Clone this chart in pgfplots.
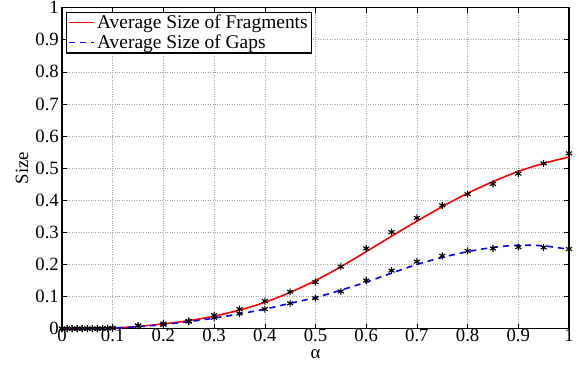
\documentclass[border=0pt]{standalone}
\usepackage{pgfplots}
\pgfplotsset{compat=1.18}
\usepackage{fontspec}
\setmainfont{Liberation Serif}
\begin{document}
\begin{tikzpicture}[x=1bp,y=1bp]
\begin{axis}[
  scale only axis,
  width=507bp, height=321bp,
  xmin=0, xmax=1, ymin=0, ymax=1,
  xtick={0,0.1,...,1.0}, ytick={0,0.1,...,1.0},
  xticklabels={0,0.1,0.2,0.3,0.4,0.5,0.6,0.7,0.8,0.9,1},
  yticklabels={0,0.1,0.2,0.3,0.4,0.5,0.6,0.7,0.8,0.9,1},
  tick align=inside, tick pos=both,
  major tick length=5bp,
  grid=major,
  grid style={dotted, gray!70, line width=0.6pt},
  axis line style={line width=1.2pt},
  tick style={line width=0.6pt, black},
  ticklabel style={font=\fontsize{18.8}{21}\selectfont},
  xticklabel style={yshift=1bp, inner sep=1pt},
  yticklabel style={xshift=-1.5bp, inner sep=1.5pt},
  /pgf/number format/assume math mode=true,
  xlabel={α}, ylabel={Size},
  label style={font=\fontsize{18.8}{21}\selectfont},
  xlabel style={at={(axis description cs:0.5,0)}, anchor=north, yshift=-21bp, inner sep=0pt},
  ylabel style={at={(axis description cs:-0.079,0.5)}, anchor=center, inner sep=0pt},
  legend style={at={(rel axis cs:0.008,0.988)}, anchor=north west,
    font=\fontsize{19.5}{22}\selectfont, draw=black, line width=1.2pt,
    inner xsep=2pt, inner ysep=1pt, row sep=0.5pt, cells={anchor=west}},
  legend cell align=left,
  legend image code/.code={\draw[#1, line width=1.5pt] (0bp,0bp) -- (25bp,0bp);},
]
\addplot[red, line width=1.6pt, smooth] coordinates {
(0,0) (0.05,0.0005) (0.1,0.002) (0.15,0.007) (0.2,0.015) (0.25,0.025) (0.3,0.039) (0.35,0.058) (0.4,0.082) (0.45,0.113) (0.5,0.15) (0.55,0.193) (0.6,0.24) (0.65,0.288) (0.7,0.335) (0.75,0.38) (0.8,0.422) (0.85,0.458) (0.9,0.49) (0.95,0.515) (1.0,0.535)};
\addlegendentry{Average Size of Fragments}
\addplot[blue, dash pattern=on 6bp off 5bp, line width=1.6pt, smooth] coordinates {
(0,0) (0.05,0.0005) (0.1,0.002) (0.15,0.006) (0.2,0.013) (0.25,0.022) (0.3,0.033) (0.35,0.046) (0.4,0.061) (0.45,0.079) (0.5,0.097) (0.55,0.12) (0.6,0.145) (0.65,0.173) (0.7,0.2) (0.75,0.222) (0.8,0.24) (0.85,0.253) (0.9,0.26) (0.95,0.258) (1.0,0.247)};
\addlegendentry{Average Size of Gaps}
\addplot[only marks, mark=asterisk, mark size=3.5bp, black, mark options={line width=1.1pt}, forget plot] coordinates {
(0,0) (0.01,0) (0.02,0) (0.03,0) (0.04,0) (0.05,0) (0.06,0) (0.07,0) (0.08,0) (0.09,0.001) (0.1,0.002)
(0.15,0.01) (0.2,0.016) (0.25,0.024) (0.3,0.042) (0.35,0.061) (0.4,0.086) (0.45,0.115) (0.5,0.145) (0.55,0.193) (0.6,0.25) (0.65,0.301) (0.7,0.345) (0.75,0.384) (0.8,0.419) (0.85,0.451) (0.9,0.483) (0.95,0.515) (1.0,0.546)};
\addplot[only marks, mark=asterisk, mark size=3.5bp, black, mark options={line width=1.1pt}, forget plot] coordinates {
(0,0) (0.01,0) (0.02,0) (0.03,0) (0.04,0) (0.05,0) (0.06,0) (0.07,0) (0.08,0) (0.09,0.001) (0.1,0.002)
(0.15,0.009) (0.2,0.012) (0.25,0.022) (0.3,0.034) (0.35,0.047) (0.4,0.061) (0.45,0.079) (0.5,0.095) (0.55,0.116) (0.6,0.15) (0.65,0.181) (0.7,0.209) (0.75,0.227) (0.8,0.242) (0.85,0.25) (0.9,0.254) (0.95,0.253) (1.0,0.248)};
\end{axis}
\path (current axis.south west) ++(-62bp,-44bp);
\path (current axis.north east) ++(11bp,6bp);
\end{tikzpicture}
\end{document}
